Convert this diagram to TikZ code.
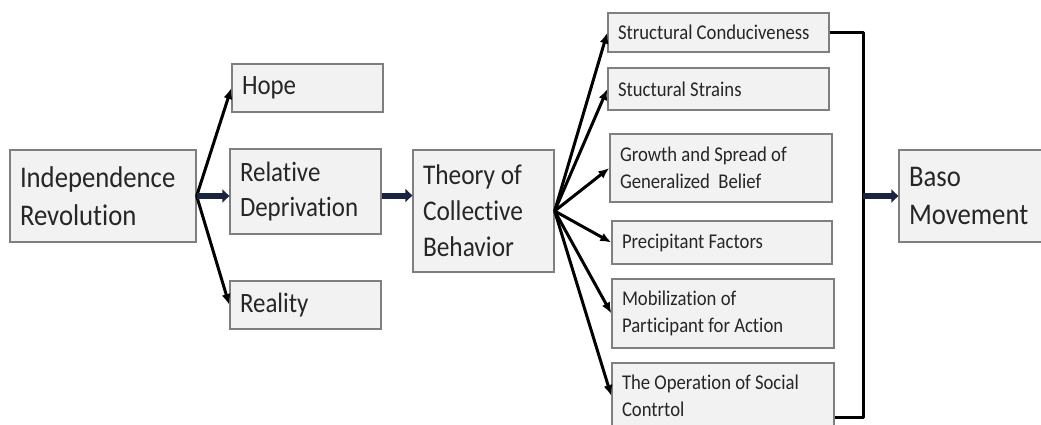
\documentclass[tikz,border=0pt]{standalone}
\usepackage{fontspec}
\setmainfont{Carlito}[FakeStretch=0.89, Ligatures=NoCommon]
\usetikzlibrary{arrows.meta,calc}
\definecolor{boxfill}{HTML}{F2F2F2}
\definecolor{boxline}{HTML}{7F7F7F}
\definecolor{navy}{HTML}{1A2440}
\definecolor{ink}{HTML}{262626}
\begin{document}
\begin{tikzpicture}[x=1pt,y=-1pt,
  box/.style={draw=boxline, fill=boxfill, line width=1.3pt, rectangle, text=ink,
    inner xsep=10pt, inner ysep=0pt, align=flush left, anchor=center},
  big/.style={font=\fontsize{30}{38}\selectfont},
  theo/.style={font=\fontsize{28.5}{36}\selectfont},
  mid/.style={font=\fontsize{28}{35}\selectfont},
  small/.style={font=\fontsize{21}{27}\selectfont},
  thin/.style={line width=3pt, -{Latex[length=11pt,width=9pt]}},
  fat/.style={line width=6pt, draw=navy, -{Triangle[length=7pt,width=13pt]}},
  bracket/.style={line width=3pt, line join=round}]
\clip (0,0) rectangle (1041,425);
\fill[white] (0,0) rectangle (1041,425);

% first stage
\node[box,big,minimum width=186pt,minimum height=92pt,text width=166pt] (ir) at (103,196) {Independence\\Revolution};
\node[box,mid,minimum width=151pt,minimum height=48pt,text width=131pt] (hope) at (307.5,88) {Hope};
\node[box,mid,minimum width=151pt,minimum height=85pt,text width=131pt] (rd) at (305.5,191.5) {Relative\\Deprivation};
\node[box,mid,minimum width=151pt,minimum height=48pt,text width=131pt] (real) at (305.5,305) {Reality};

% theory
\node[box,theo,minimum width=141pt,minimum height=122pt,text width=121pt] (th) at (483.5,211) {Theory of\\Collective\\Behavior};

% determinants
\node[box,small,minimum width=221pt,minimum height=39pt,text width=201pt] (sc) at (718.5,32.5) {Structural Conduciveness};
\node[box,small,minimum width=221pt,minimum height=42pt,text width=201pt] (ss) at (718.5,89) {Stuctural Strains};
\node[box,small,minimum width=222pt,minimum height=68pt,text width=202pt] (gs) at (721,168) {Growth and Spread of\\Generalized\ \ Belief};
\node[box,small,minimum width=220pt,minimum height=43pt,text width=200pt] (pf) at (722,242.5) {Precipitant Factors};
\node[box,small,minimum width=222pt,minimum height=69pt,text width=202pt] (mp) at (723,313.5) {Mobilization of\\Participant for Action};
\node[box,small,minimum width=222pt,minimum height=66pt,text width=202pt] (op) at (723,396) {The Operation of Social\\Contrtol};

% outcome
\node[box,big,minimum width=151pt,minimum height=92pt,text width=131pt] (baso) at (974.5,196) {Baso\\Movement};

% connectors
\draw[thin] (ir.east) -- (hope.west);
\draw[thin] (ir.east) -- (real.west);
\draw[fat] (ir.east) -- (ir.east -| rd.west);
\coordinate (rdo) at ($(rd.east)+(0,4)$);
\draw[fat] (rdo) -- (rdo -| th.west);

\foreach \t in {sc,ss,gs,pf,mp,op}
  \draw[thin] (th.east) -- (\t.west);

\coordinate (bot) at (863,417);
\draw[bracket] (sc.east) -| (bot) -- (bot -| op.east);
\draw[fat] (bot |- baso.west) -- (baso.west);
\end{tikzpicture}
\end{document}
